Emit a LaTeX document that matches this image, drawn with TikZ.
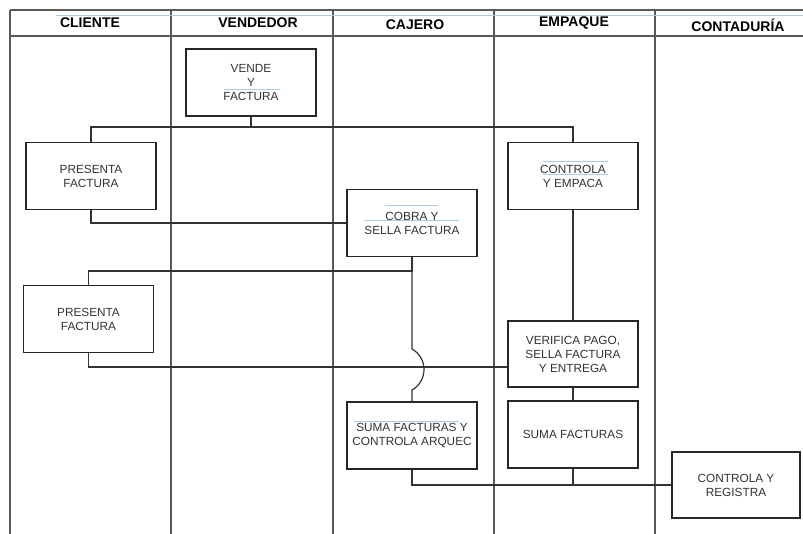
\documentclass[tikz,border=0pt]{standalone}
\usepackage{fontspec}
\setmainfont{Liberation Sans}
\usepackage{tikz}
\usetikzlibrary{positioning}

\definecolor{laneline}{gray}{0.35}
\definecolor{boxtext}{gray}{0.2}
\definecolor{scanblue}{RGB}{170,205,230}

\begin{document}
\begin{tikzpicture}[x=1pt,y=-1pt,
  lane/.style={draw=laneline, line width=1.3pt},
  lanetitle/.style={font=\fontsize{14}{16}\selectfont\bfseries},
  proc/.style={draw=black!85, fill=white, line width=1.6pt, minimum width=130pt,
    minimum height=67pt, inner sep=2pt, align=center, text=boxtext,
    font=\fontsize{11.8}{14}\selectfont},
  link/.style={draw=black!80, line width=1.2pt},
  overline/.style={draw=scanblue, line width=0.6pt}]
  \useasboundingbox (0,0) rectangle (803,534);

  % swimlanes
  \draw[lane] (10,10) -- (803,10);
  \draw[lane] (10,36) -- (803,36);
  \foreach \lx in {10,171,333,494,655}
    \draw[lane] (\lx,10) -- (\lx,534);

  \node[lanetitle] (cliente) at (90,23) {CLIENTE};
  \node[lanetitle] (vendedor) at (258,23) {VENDEDOR};
  \node[lanetitle] (cajero) at (415,25) {CAJERO};
  \node[lanetitle] (empaque) at (574,23) {EMPAQUE};
  \node[lanetitle] (conta) at (738,25) {CONTADURÍA};

  % steps
  \node[proc] (vende) at (251,82.5) {VENDE\\Y\\FACTURA};
  \node[proc] (pres1) at (91,176) {PRESENTA\\FACTURA};
  \node[proc] (ctrl) at (573,176) {CONTROLA\\Y EMPACA};
  \node[proc] (cobra) at (412,223) {COBRA Y\\SELLA FACTURA};
  \node[proc] (pres2) at (88.5,319) {PRESENTA\\FACTURA};
  \node[proc, minimum height=66pt] (verif) at (573,354) {VERIFICA PAGO,\\SELLA FACTURA\\Y ENTREGA};
  \node[proc] (sumae) at (573,434.5) {SUMA FACTURAS};
  \node[proc] (sumac) at (412,435.5) {SUMA FACTURAS Y\\CONTROLA ARQUEC};
  \node[proc, minimum width=128pt, minimum height=66pt] (reg) at (736,485) {CONTROLA Y\\REGISTRA};

  % flow
  \coordinate (split) at (vende.south |- 0,127);
  \draw[link] (vende.south) -- (split);
  \draw[link] (pres1.north) |- (split) -| (ctrl.north);
  \draw[link] (pres1.south) |- (cobra.west);
  \coordinate (fork) at (cobra.south |- 0,271);
  \draw[link] (pres2.north) |- (fork) -- (cobra.south);
  \coordinate (entrega) at ([yshift=-13pt]verif.west);
  \draw[link] (pres2.south) |- (entrega);
  \coordinate (hopA) at (cobra.south |- 0,349);
  \coordinate (hopB) at (cobra.south |- 0,390);
  \draw[link] (cobra.south) -- (hopA) .. controls +(16,9) and +(16,-9) .. (hopB) -- (sumac.north);
  \draw[link] (ctrl.south) -- (verif.north);
  \draw[link] (verif.south) -- (sumae.north);
  \draw[link] (sumac.south) |- (reg.west);
  \draw[link] (sumae.south) -- (sumae.south |- reg.west);

  % faint scan marks
  \draw[overline] (56,15.7) -- (803,15.7);
  \draw[overline] (224,89.5) -- (280,89.5);
  \draw[overline] (543,161.5) -- (608,161.5);
  \draw[overline] (543,174) -- (608,174);
  \draw[overline] (385,205) -- (438,205);
  \draw[overline] (364,220.5) -- (459,220.5);
  \draw[overline] (354,421) -- (459,421);
\end{tikzpicture}
\end{document}
